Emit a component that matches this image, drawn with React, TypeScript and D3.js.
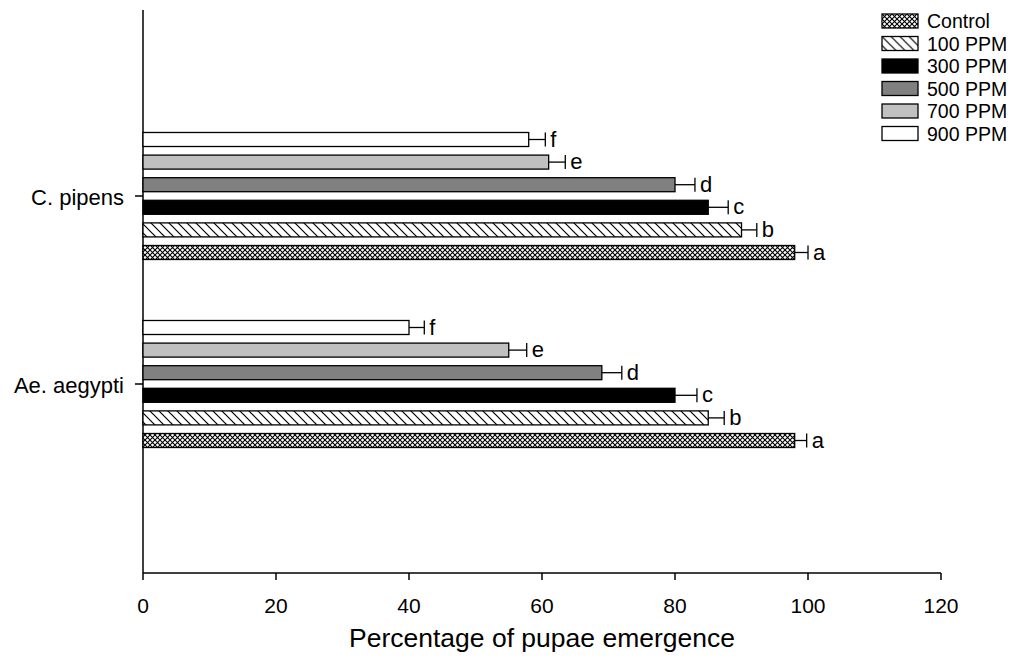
import React from 'react';
import * as d3 from 'd3';

const species = ['C. pipens', 'Ae. aegypti'];
const doses = ['Control', '100 PPM', '300 PPM', '500 PPM', '700 PPM', '900 PPM'];
const pipensMean = [98, 90, 85, 80, 61, 58];
const pipensErr = [2, 2.3, 3, 3, 2.5, 2.5];
const aegyptiMean = [98, 85, 80, 69, 55, 40];
const aegyptiErr = [1.8, 2.4, 3.3, 3, 2.7, 2.3];
const letters = ['a', 'b', 'c', 'd', 'e', 'f'];
const xTicks = [0, 20, 40, 60, 80, 100, 120];

const fills = ['url(#cross)', 'url(#diag)', '#000000', '#808080', '#c0c0c0', '#ffffff'];

const FONT = 'Liberation Sans, Arial, Helvetica, sans-serif';

const App = () => {
  const width = 1024;
  const height = 658;
  const x = d3.scaleLinear().domain([0, 120]).range([143, 941]);
  const y = d3.scalePoint().domain(species).range([8, 572]).padding(1);
  const inner = d3.scaleBand()
    .domain([...doses].reverse())
    .range([-67.8, 67.8])
    .paddingInner(0.38)
    .paddingOuter(0.19);

  const data = [
    { name: species[0], mean: pipensMean, err: pipensErr },
    { name: species[1], mean: aegyptiMean, err: aegyptiErr },
  ];

  return (
    <svg width={width} height={height} style={{ position: 'absolute', left: 0, top: 0 }}>
      <defs>
        <pattern id="cross" width="5" height="5" patternUnits="userSpaceOnUse">
          <rect width="5" height="5" fill="#fff" />
          <path d="M0,0L5,5M5,0L0,5" stroke="#000" strokeWidth="1.1" />
        </pattern>
        <pattern id="diag" width="9" height="9" patternUnits="userSpaceOnUse">
          <rect width="9" height="9" fill="#fff" />
          <path d="M0,0L9,9M-4.5,4.5L4.5,13.5M4.5,-4.5L13.5,4.5" stroke="#000" strokeWidth="1.2" />
        </pattern>
      </defs>

      {/* axes */}
      <line x1={x(0)} x2={x(0)} y1={10} y2={573} stroke="#000" strokeWidth={1.5} />
      <line x1={x(0)} x2={x(120)} y1={573} y2={573} stroke="#000" strokeWidth={1.5} />
      {xTicks.map((t) => (
        <g key={t}>
          <line x1={x(t)} x2={x(t)} y1={573} y2={580} stroke="#000" strokeWidth={1.5} />
          <text x={x(t)} y={613} textAnchor="middle" fontSize={21} fontFamily={FONT}>{t}</text>
        </g>
      ))}
      <text x={542} y={647} textAnchor="middle" fontSize={25} fontFamily={FONT}
        textLength={386} lengthAdjust="spacingAndGlyphs">Percentage of pupae emergence</text>

      {species.map((s) => (
        <g key={s}>
          <line x1={x(0) - 8} x2={x(0)} y1={y(s)} y2={y(s)} stroke="#000" strokeWidth={1.5} />
          <text x={124} y={(y(s) as number) + 8.5} textAnchor="end" fontSize={22} fontFamily={FONT}>{s}</text>
        </g>
      ))}

      {data.map((g) => (
        <g key={g.name}>
          {doses.map((d, i) => {
            const yc = (y(g.name) as number) + (inner(d) as number);
            const h = inner.bandwidth();
            const xe = x(g.mean[i] + g.err[i]);
            return (
              <g key={d}>
                <rect x={x(0)} y={yc} width={x(g.mean[i]) - x(0)} height={h}
                  fill={fills[i]} stroke="#000" strokeWidth={1.3} />
                <line x1={x(g.mean[i])} x2={xe} y1={yc + h / 2} y2={yc + h / 2} stroke="#000" strokeWidth={1.3} />
                <line x1={xe} x2={xe} y1={yc + h / 2 - 7} y2={yc + h / 2 + 7} stroke="#000" strokeWidth={1.3} />
                <text x={xe + 5} y={yc + h / 2 + 7} fontSize={22} fontFamily={FONT}>{letters[i]}</text>
              </g>
            );
          })}
        </g>
      ))}

      {/* legend */}
      {doses.map((d, i) => (
        <g key={d} transform={`translate(882, ${14 + i * 22.5})`}>
          <rect x={0} y={0} width={36} height={14} fill={fills[i]} stroke="#000" strokeWidth={1.3} />
          <text x={45} y={14} fontSize={19.5} fontFamily={FONT}>{d}</text>
        </g>
      ))}
    </svg>
  );
};

export default App;
